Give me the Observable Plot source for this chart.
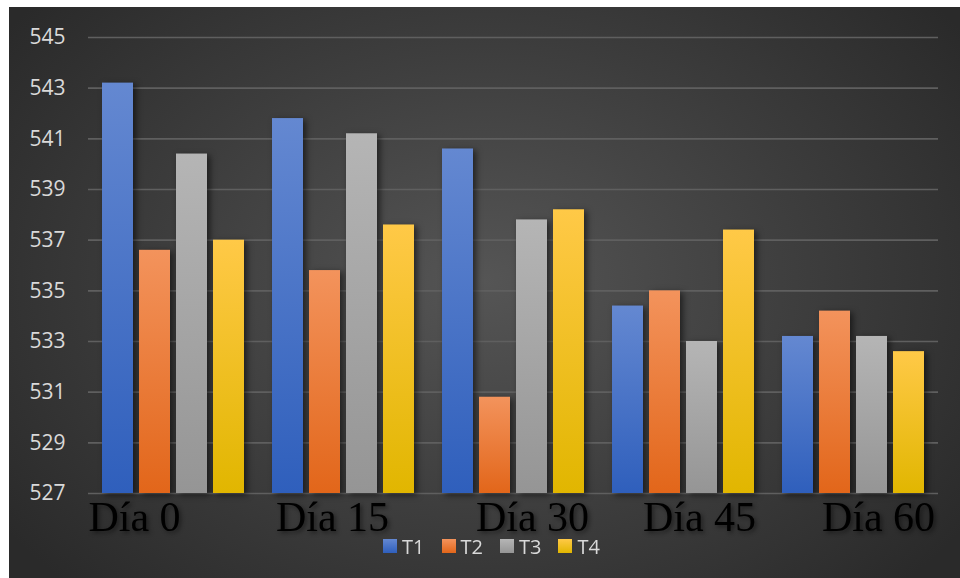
<!DOCTYPE html>
<html>
<head>
<meta charset="utf-8">
<script src="https://cdn.jsdelivr.net/npm/d3@7"></script>
<script src="https://cdn.jsdelivr.net/npm/@observablehq/plot@0.6"></script>
<style>
  html, body { margin: 0; padding: 0; background: #ffffff; }
  #chart {
    position: absolute; left: 9px; top: 7px; width: 951px; height: 571px;
    background: radial-gradient(ellipse 62% 75% at 50% 48%, #555555 0%, #3d3d3d 55%, #2a2a2a 100%);
    overflow: hidden;
  }
  #chart svg g[aria-label="bar"] { filter: drop-shadow(3px 2px 3px rgba(0,0,0,0.55)); }
  #chart svg .daylabel { filter: drop-shadow(2px 2px 2px rgba(0,0,0,0.45)); }
  #legend {
    display: flex; justify-content: center; align-items: center; gap: 17px;
    height: 18px; margin-left: 14px;
    font-family: "Open Sans", sans-serif; font-size: 20px; color: #d9d9d9;
  }
  #legend .item { display: flex; align-items: center; gap: 5px; }
  #legend .sw { width: 14px; height: 14px; }
</style>
</head>
<body>
<svg width="0" height="0" style="position:absolute">
  <defs>
    <linearGradient id="grad-T1" x1="0" y1="0" x2="0" y2="1">
      <stop offset="0" stop-color="#6488d1"/><stop offset="1" stop-color="#2f5fbc"/>
    </linearGradient>
    <linearGradient id="grad-T2" x1="0" y1="0" x2="0" y2="1">
      <stop offset="0" stop-color="#f3935c"/><stop offset="1" stop-color="#e2661a"/>
    </linearGradient>
    <linearGradient id="grad-T3" x1="0" y1="0" x2="0" y2="1">
      <stop offset="0" stop-color="#b5b5b5"/><stop offset="1" stop-color="#959595"/>
    </linearGradient>
    <linearGradient id="grad-T4" x1="0" y1="0" x2="0" y2="1">
      <stop offset="0" stop-color="#ffc947"/><stop offset="1" stop-color="#e1b600"/>
    </linearGradient>
  </defs>
</svg>
<div id="chart"></div>
<script>
// ---- data ----
const days = ["Día 0", "Día 15", "Día 30", "Día 45", "Día 60"];
const series = ["T1", "T2", "T3", "T4"];
const t1 = [543.2, 541.8, 540.6, 534.4, 533.2];
const t2 = [536.6, 535.8, 530.8, 535.0, 534.2];
const t3 = [540.4, 541.2, 537.8, 533.0, 533.2];
const t4 = [537.0, 537.6, 538.2, 537.4, 532.6];
const yTicks = [527, 529, 531, 533, 535, 537, 539, 541, 543, 545];

// ---- layout/style (not data) ----
const labelNudge = [-39, -11, 19, 16, 25];
const swatchFills = ["linear-gradient(#6488d1,#2f5fbc)", "linear-gradient(#f3935c,#e2661a)", "linear-gradient(#b5b5b5,#959595)", "linear-gradient(#ffc947,#e1b600)"];

const values = [t1, t2, t3, t4];
const table = days.flatMap((day, i) => series.map((s, j) => ({day, series: s, value: values[j][i]})));

const chart = Plot.plot({
  width: 951,
  height: 530,
  marginTop: 30,
  marginBottom: 44,
  marginLeft: 77,
  marginRight: 20,
  style: {background: "transparent", color: "#d9d9d9", fontFamily: "Open Sans, sans-serif", overflow: "visible"},
  fx: {domain: days, paddingInner: 0, paddingOuter: 0, axis: null},
  x: {domain: series, paddingInner: 0.162, paddingOuter: 0.33, axis: null},
  y: {domain: [yTicks[0], yTicks[yTicks.length - 1]]},
  marks: [
    Plot.gridY(yTicks, {stroke: "#5f5f5f", strokeOpacity: 1, strokeWidth: 1.6}),
    Plot.axisY(yTicks, {tickSize: 0, tickPadding: 23, fontSize: 21, label: null, fill: "#d9d9d9"}),
    Plot.barY(table, {
      fx: "day", x: "series",
      y1: () => yTicks[0], y2: "value",
      fill: {value: d => `url(#grad-${d.series})`, scale: null}
    }),
    ...days.map((d, i) => Plot.text([d], {
      fx: v => v, text: v => v,
      frameAnchor: "bottom", lineAnchor: "top", dy: 8, dx: labelNudge[i],
      fontSize: 42, fontFamily: "Liberation Serif, Times New Roman, serif",
      fill: "#000000", className: "daylabel"
    }))
  ]
});

const root = document.getElementById("chart");
root.appendChild(chart);

const legend = document.createElement("div");
legend.id = "legend";
series.forEach((s, j) => {
  const it = document.createElement("div");
  it.className = "item";
  const sw = document.createElement("div");
  sw.className = "sw";
  sw.style.background = swatchFills[j];
  const tx = document.createElement("span");
  tx.textContent = s;
  it.appendChild(sw); it.appendChild(tx);
  legend.appendChild(it);
});
root.appendChild(legend);
</script>
</body>
</html>
